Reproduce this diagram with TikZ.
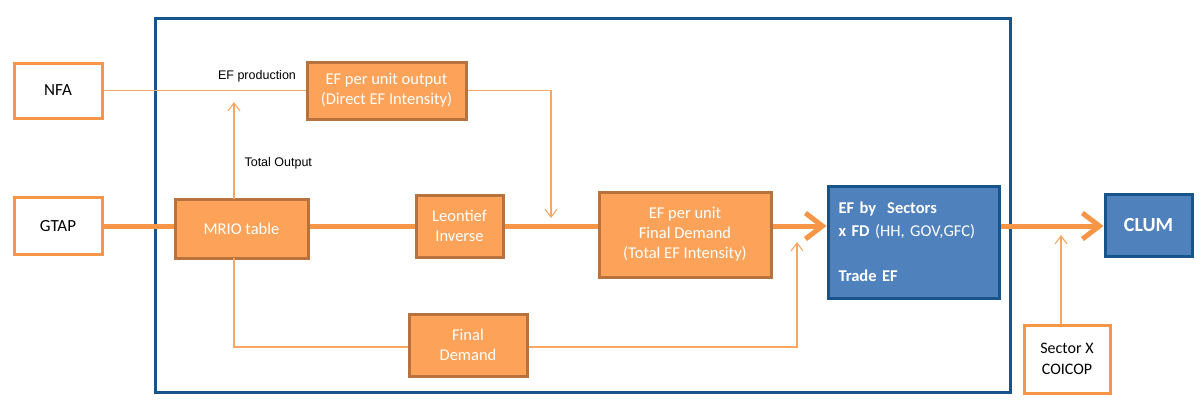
\documentclass[tikz,border=0pt]{standalone}
\usepackage{fontspec}
\setmainfont{Carlito}
\newfontfamily\LabelFont{Liberation Sans}
\usepackage{xcolor}
\definecolor{Col1}{RGB}{247,150,70}
\definecolor{Col2}{RGB}{252,163,89}
\definecolor{Col3}{RGB}{184,114,62}
\definecolor{Col4}{RGB}{79,129,189}
\definecolor{Col5}{RGB}{24,84,140}
\usetikzlibrary{arrows.meta}
\tikzstyle{Frame}=[draw=Col5,line width=3pt]
\tikzstyle{Src}=[draw=Col1,fill=white,line width=3pt,inner sep=0pt,
align=center,font=\fontsize{17}{20}\selectfont]
\tikzstyle{Stage}=[draw=Col3,fill=Col2,line width=3pt,inner sep=0pt,
align=center,text=white,font=\fontsize{16.5}{20}\selectfont]
\tikzstyle{Result}=[draw=Col5,fill=Col4,line width=3pt,inner sep=0pt,
text=white,font=\fontsize{16.5}{22.5}\selectfont]
\tikzstyle{Thin}=[draw=Col1!85,line width=1.1pt]
\tikzstyle{Thick}=[draw=Col1,line width=5pt]
\tikzstyle{Tip}=[-{Straight Barb[length=8pt,width=12pt]}]
\tikzstyle{BigTip}=[-{Straight Barb[length=17pt,width=26pt]}]
\tikzstyle{EdgeLabel}=[font=\LabelFont\fontsize{12.5}{14}\selectfont,inner sep=0pt]

\begin{document}
\begin{tikzpicture}[x=1pt,y=-1pt]
        \useasboundingbox (0,0) rectangle (1204,416);
        \draw[Frame] (155,18) rectangle (1010,392);
        \node[Src,minimum width=88,minimum height=55](NFA)at(58,90.5){NFA};
        \node[Src,minimum width=88,minimum height=57](GTAP)at(58,226){GTAP};
        \node[Stage,minimum width=133,minimum height=59](MRIO)at(241.5,228.5){MRIO table};
        \node[Stage,minimum width=159,minimum height=57](EFout)at(386.5,90.5){EF per unit output\\(Direct EF Intensity)};
        \node[Stage,minimum width=87,minimum height=62](Leon)at(459.5,226){Leontief\\Inverse};
        \node[Stage,minimum width=172,minimum height=85](EFfd)at(685,234.5){EF per unit\\Final Demand\\(Total EF Intensity)};
        \node[Stage,minimum width=118,minimum height=62](FD)at(468,345){Final\\Demand};
        \node[Result,minimum width=171,minimum height=112,text width=150,align=left](Sect)at(913.5,242){\textbf{EF by\ \ Sectors}\\\textbf{x FD} (HH, GOV,GFC)\\[22.5pt]\textbf{Trade EF}};
        \node[Result,minimum width=87,minimum height=62,font=\fontsize{20}{24}\selectfont\bfseries](CLUM)at(1148.5,225){CLUM};
        \node[Src,minimum width=86,minimum height=68,font=\fontsize{16}{21}\selectfont](COICOP)at(1067,359){Sector X\\COICOP};
        \coordinate(t0)at(234,199);
        \coordinate(t1)at(234,102);
        \coordinate(d0)at(551,90.5);
        \coordinate(d1)at(551,218);
        \coordinate(m0)at(234,258);
        \coordinate(m1)at(234,347);
        \coordinate(f0)at(797,347);
        \coordinate(f1)at(797,242);
        \coordinate(s1)at(1061,235);
        \draw[Thin](NFA)--(EFout) node[EdgeLabel,pos=.76,above=8pt]{EF production};
        \draw[Thin,Tip](t0)--(t1) node[EdgeLabel,pos=.37,right=10pt]{Total Output};
        \draw[Thin,Tip](EFout.east)--(d0)--(d1);
        \draw[Thin](m0)--(m1)--(m1-|FD.west);
        \draw[Thin,Tip](FD.east|-f0)--(f0)--(f1);
        \draw[Thin,Tip](COICOP.north-|s1)--(s1);
        \draw[Thick](GTAP.east)--(MRIO.west|-GTAP.east);
        \draw[Thick](MRIO.east|-Leon.east)--(Leon.east-|Leon.west);
        \draw[Thick](Leon.east)--(Leon.east-|EFfd.west);
        \draw[Thick,BigTip](EFfd.east|-Leon.east)--(Leon.east-|Sect.west);
        \draw[Thick,BigTip](Sect.east|-Leon.east)--(Leon.east-|CLUM.west);
    \end{tikzpicture}
\end{document}
